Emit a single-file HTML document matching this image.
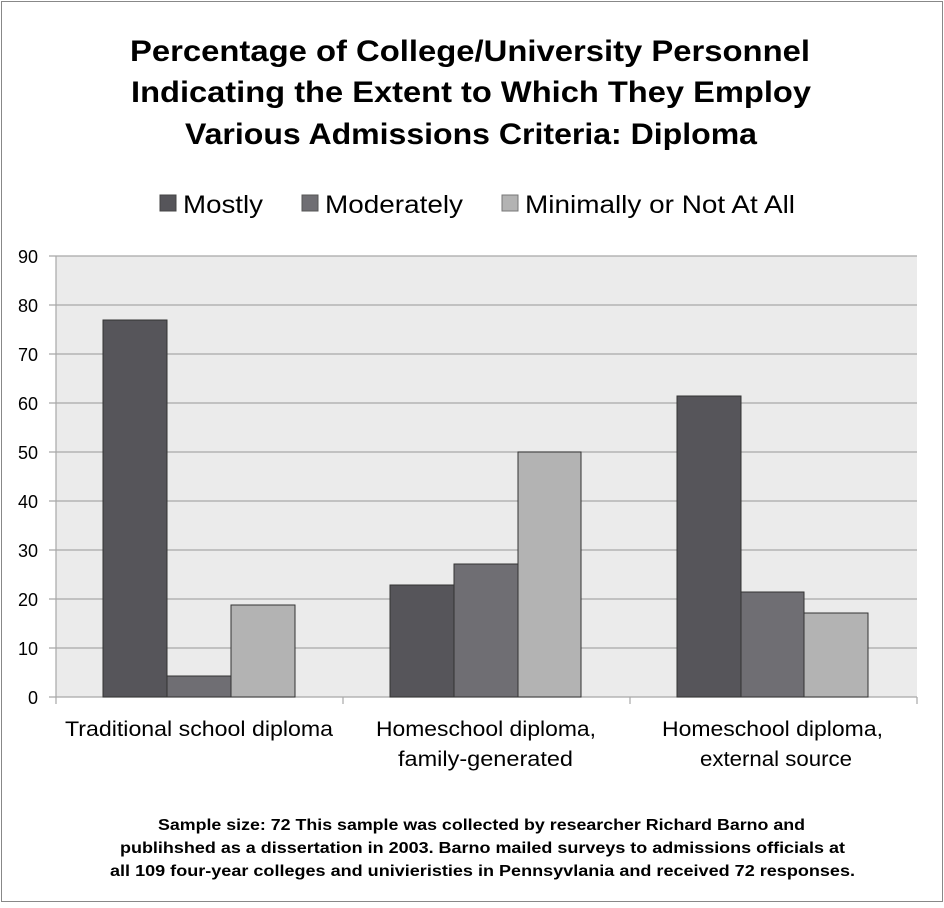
<!DOCTYPE html>
<html><head><style>
body{margin:0;background:#fff;}
svg text{font-family:"Liberation Sans",sans-serif;}
</style></head><body>
<svg width="944" height="903" xmlns="http://www.w3.org/2000/svg">
<rect x="1.5" y="1.5" width="941" height="900" fill="#fff" stroke="#888" stroke-width="1"/>
<g font-weight="bold" font-size="30" fill="#000" lengthAdjust="spacingAndGlyphs">
<text x="130" y="61" textLength="680" lengthAdjust="spacingAndGlyphs">Percentage of College/University Personnel</text>
<text x="131" y="102" textLength="680" lengthAdjust="spacingAndGlyphs">Indicating the Extent to Which They Employ</text>
<text x="185" y="144" textLength="572" lengthAdjust="spacingAndGlyphs">Various Admissions Criteria: Diploma</text>
</g>
<g font-size="25" fill="#000">
<rect x="160" y="195" width="16" height="16" fill="#56555a" stroke="#444"/>
<text x="183" y="213" textLength="80" lengthAdjust="spacingAndGlyphs">Mostly</text>
<rect x="302" y="195" width="16" height="16" fill="#6f6e73" stroke="#555"/>
<text x="325" y="213" textLength="138" lengthAdjust="spacingAndGlyphs">Moderately</text>
<rect x="502" y="195" width="16" height="16" fill="#b3b3b3" stroke="#777"/>
<text x="525" y="213" textLength="270" lengthAdjust="spacingAndGlyphs">Minimally or Not At All</text>
</g>
<rect x="56" y="256" width="861" height="441" fill="#ebebeb"/>
<g stroke="#a8a8a8" stroke-width="1.2">
<line x1="49" y1="256" x2="917" y2="256"/>
<line x1="49" y1="305" x2="917" y2="305"/>
<line x1="49" y1="354" x2="917" y2="354"/>
<line x1="49" y1="403" x2="917" y2="403"/>
<line x1="49" y1="452" x2="917" y2="452"/>
<line x1="49" y1="501" x2="917" y2="501"/>
<line x1="49" y1="550" x2="917" y2="550"/>
<line x1="49" y1="599" x2="917" y2="599"/>
<line x1="49" y1="648" x2="917" y2="648"/>
<line x1="49" y1="697" x2="917" y2="697"/>
<line x1="56" y1="256" x2="56" y2="704"/>
<line x1="343" y1="697" x2="343" y2="704"/>
<line x1="630" y1="697" x2="630" y2="704"/>
<line x1="917" y1="697" x2="917" y2="704"/>
</g>
<g font-size="18" text-anchor="end" fill="#000">
<text x="38" y="263">90</text><text x="38" y="312">80</text><text x="38" y="361">70</text>
<text x="38" y="410">60</text><text x="38" y="459">50</text><text x="38" y="508">40</text>
<text x="38" y="557">30</text><text x="38" y="606">20</text><text x="38" y="655">10</text>
<text x="38" y="704">0</text>
</g>
<g stroke="#333" stroke-width="1">
<rect x="103" y="320" width="64" height="377" fill="#56555a"/>
<rect x="167" y="676" width="64" height="21" fill="#6f6e73"/>
<rect x="231" y="605" width="64" height="92" fill="#b3b3b3"/>
<rect x="390" y="585" width="64" height="112" fill="#56555a"/>
<rect x="454" y="564" width="64" height="133" fill="#6f6e73"/>
<rect x="518" y="452" width="63" height="245" fill="#b3b3b3"/>
<rect x="677" y="396" width="64" height="301" fill="#56555a"/>
<rect x="741" y="592" width="63" height="105" fill="#6f6e73"/>
<rect x="804" y="613" width="64" height="84" fill="#b3b3b3"/>
</g>
<g font-size="21" fill="#000">
<text x="65" y="736" textLength="268" lengthAdjust="spacingAndGlyphs">Traditional school diploma</text>
<text x="376" y="736" textLength="220" lengthAdjust="spacingAndGlyphs">Homeschool diploma,</text>
<text x="398" y="766" textLength="175" lengthAdjust="spacingAndGlyphs">family-generated</text>
<text x="662" y="736" textLength="221" lengthAdjust="spacingAndGlyphs">Homeschool diploma,</text>
<text x="700" y="766" textLength="152" lengthAdjust="spacingAndGlyphs">external source</text>
</g>
<g font-size="16" font-weight="bold" fill="#000">
<text x="158" y="830" textLength="647" lengthAdjust="spacingAndGlyphs">Sample size: 72 This sample was collected by researcher Richard Barno and</text>
<text x="120" y="853" textLength="725" lengthAdjust="spacingAndGlyphs">publihshed as a dissertation in 2003. Barno mailed surveys to admissions officials at</text>
<text x="110" y="876" textLength="745" lengthAdjust="spacingAndGlyphs">all 109 four-year colleges and univieristies in Pennsyvlania and received 72 responses.</text>
</g>
</svg>
</body></html>
